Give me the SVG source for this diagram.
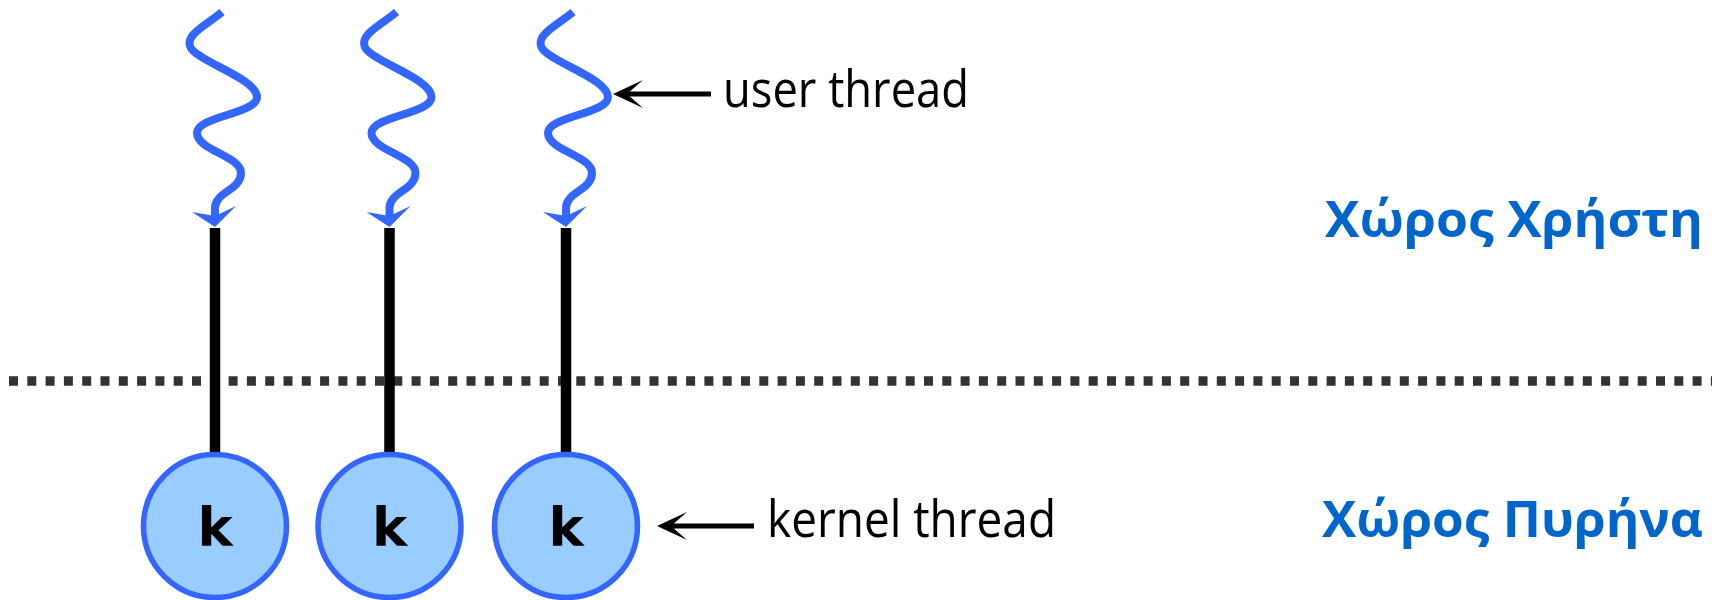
<svg xmlns="http://www.w3.org/2000/svg" xmlns:xlink="http://www.w3.org/1999/xlink" width="1719" height="600" viewBox="0 0 1719 600">
<style>
.wave{fill:none;stroke:#3366FF;stroke-width:8;stroke-linecap:butt}
.wavehead{fill:#3366FF}
.bar{stroke:#000;stroke-width:10.5}
.kc{fill:#99CCFF;stroke:#3366FF;stroke-width:5.5}
.k{font-family:"DejaVu Sans",sans-serif;font-weight:bold;font-size:53px;fill:#000;text-anchor:middle}
.lbl{font-family:"Open Sans","Noto Sans",sans-serif;font-size:52px;fill:#000}
.space{font-family:"Open Sans","Noto Sans",sans-serif;font-weight:bold;font-size:50px;fill:#0066CC}
.ptr{stroke:#000;stroke-width:5;fill:none}
.ptrhead{fill:#000}
.sep{stroke:#333;stroke-width:9.5;stroke-dasharray:9 9.3}
</style>
<defs>
<g id="wv">
<path class="wave" d="M222 12 C208 24 186 34 190 46 C193 60 257 78 257 97 C257 114 197 116 197 133 C197 150 241 156 241 173 C241 190 215 192 215 208 L215 216"/>
<path class="wavehead" d="M215 227 L192 212 L215 216 L236 206 Z"/>
</g>
</defs>
<line class="sep" x1="9" y1="381" x2="1712" y2="381"/>
<g id="connectors">
<line class="bar" x1="215" y1="228" x2="215" y2="455"/>
<line class="bar" x1="389.5" y1="228" x2="389.5" y2="455"/>
<line class="bar" x1="566" y1="228" x2="566" y2="455"/>
<line class="ptr" x1="711" y1="94" x2="624" y2="94"/>
<path class="ptrhead" d="M613 94 L643 80 L627 94 L643 108 Z"/>
<line class="ptr" x1="754" y1="526" x2="668" y2="526"/>
<path class="ptrhead" d="M657 526 L687 512 L671 526 L687 540 Z"/>
</g>
<g id="user-thread-1"><use xlink:href="#wv" href="#wv"/></g>
<g id="user-thread-2"><use xlink:href="#wv" href="#wv" transform="translate(174.5 0)"/></g>
<g id="user-thread-3"><use xlink:href="#wv" href="#wv" transform="translate(351 0)"/></g>
<g id="kernel-thread-1"><circle class="kc" cx="215" cy="526" r="71.5"/><text class="k" x="215" y="546">k</text></g>
<g id="kernel-thread-2"><circle class="kc" cx="389.5" cy="526" r="71.5"/><text class="k" x="389.5" y="546">k</text></g>
<g id="kernel-thread-3"><circle class="kc" cx="566" cy="526" r="71.5"/><text class="k" x="566" y="546">k</text></g>
<g id="label-user-thread"><text class="lbl" x="723" y="107" textLength="246" lengthAdjust="spacingAndGlyphs">user thread</text></g>
<g id="label-kernel-thread"><text class="lbl" x="767" y="537" textLength="289" lengthAdjust="spacingAndGlyphs">kernel thread</text></g>
<g id="label-user-space"><text class="space" x="1325" y="237" textLength="378" lengthAdjust="spacingAndGlyphs">Χώρος Χρήστη</text></g>
<g id="label-kernel-space"><text class="space" x="1322" y="537" textLength="381" lengthAdjust="spacingAndGlyphs">Χώρος Πυρήνα</text></g>
</svg>
